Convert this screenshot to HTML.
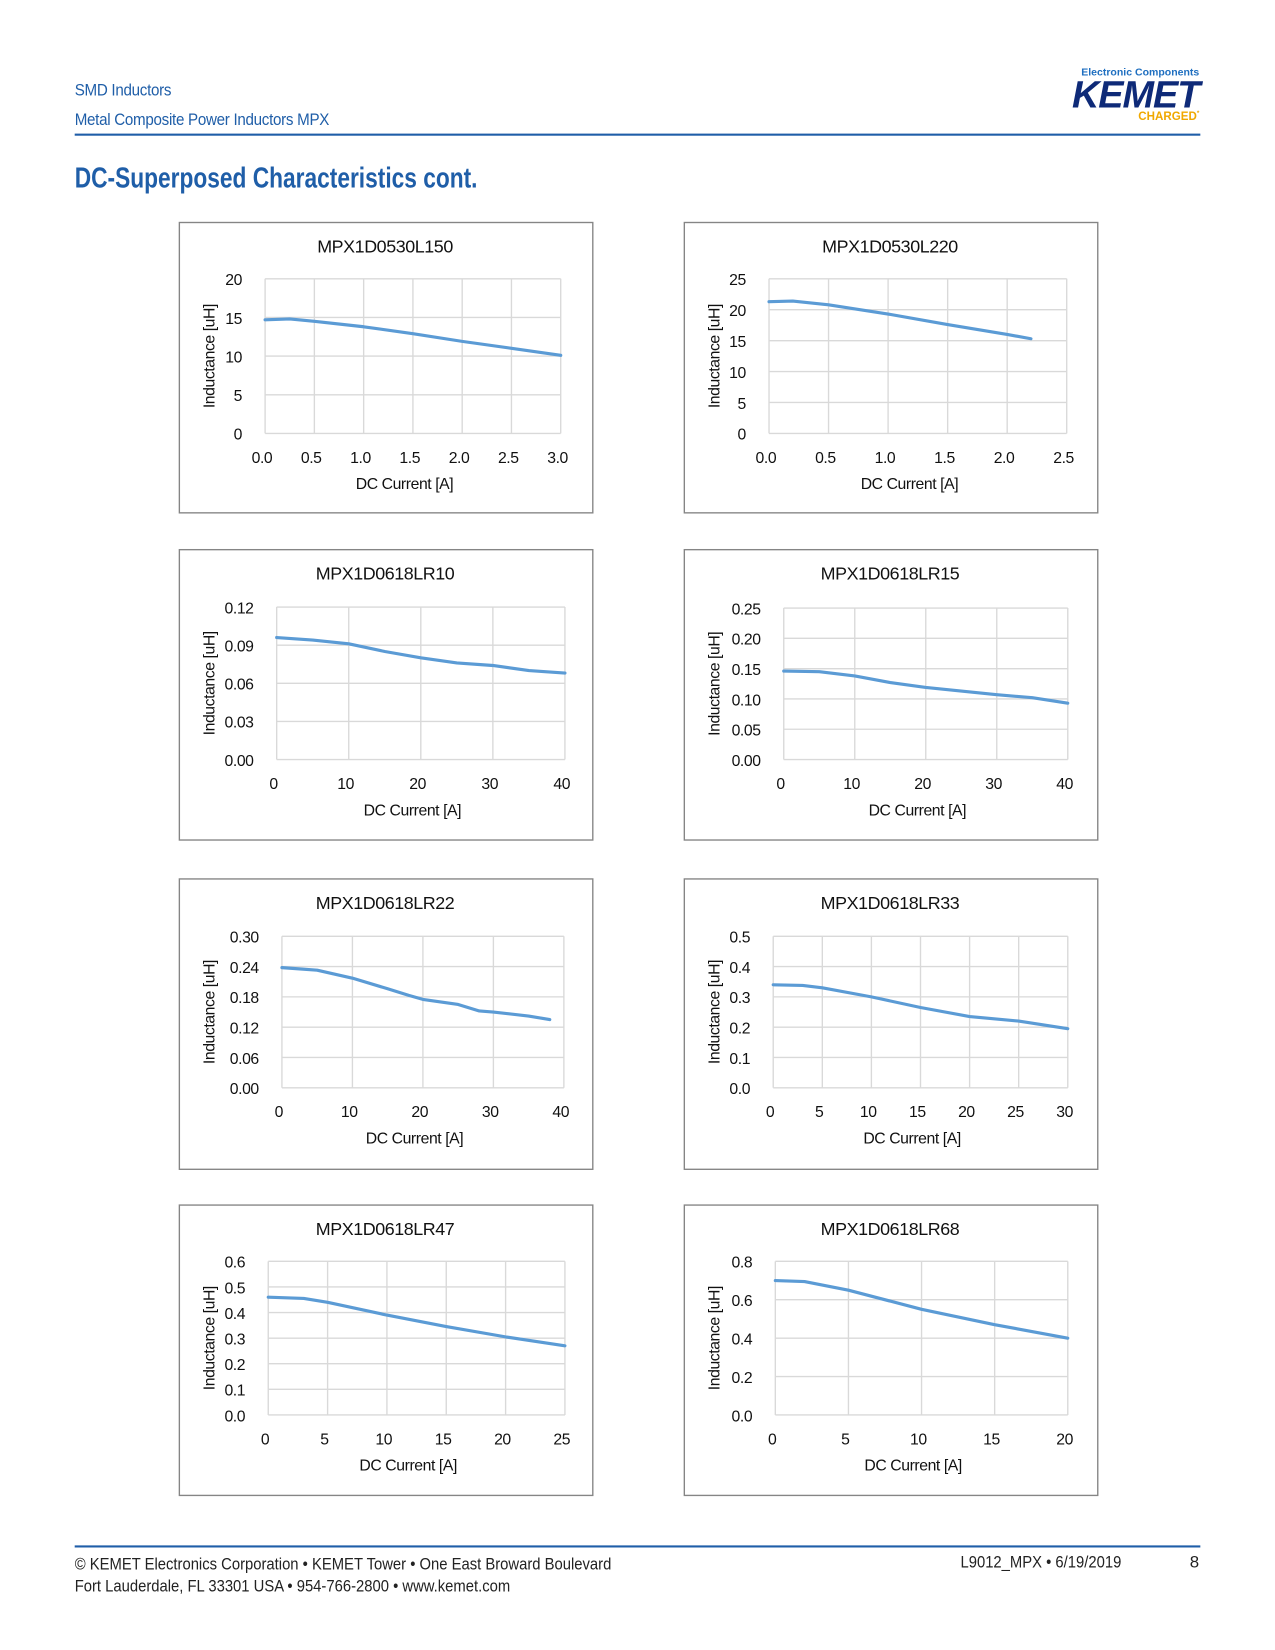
<!DOCTYPE html>
<html><head><meta charset="utf-8">
<style>
html,body{margin:0;padding:0;background:#fff;}
body{width:1275px;height:1650px;overflow:hidden;position:relative;font-family:"Liberation Sans Narrow","Liberation Sans",sans-serif;}
#wrap{position:absolute;left:0;top:0;width:1212px;height:1568px;transform:scale(1.052);transform-origin:0 0;}
.hdr{position:absolute;left:71px;color:#1f5ea8;font-size:16px;letter-spacing:-0.3px;transform:scaleX(0.9);transform-origin:0 0;}
.cond{transform:scaleX(0.88);transform-origin:0 0;}
svg text{font-family:"Liberation Sans Narrow","Liberation Sans",sans-serif;letter-spacing:-0.4px;}
</style></head><body>
<div id="wrap">
<div class="hdr" style="top:78px">SMD Inductors</div>
<div class="hdr" style="top:106px">Metal Composite Power Inductors MPX</div>
<div style="position:absolute;left:71px;top:127px;width:1070px;height:2px;background:#1f5ea8"></div>
<div style="position:absolute;left:990px;top:64px;width:150px;text-align:right;font-family:'Liberation Sans',sans-serif">
<div style="font-size:10px;font-weight:bold;color:#1f6fc0">Electronic Components</div>
<div style="font-size:36px;font-weight:bold;font-style:italic;color:#0e2a78;line-height:30px;letter-spacing:-1px">KEMET</div>
<div style="font-size:11px;font-weight:bold;color:#f0a800">CHARGED<sup style="font-size:6px">*</sup></div>
</div>
<div style="position:absolute;left:71px;top:154px;color:#1f5ea8;font-size:27px;font-weight:bold;transform:scaleX(0.8);transform-origin:0 0;white-space:nowrap">DC-Superposed Characteristics cont.</div>
<svg id="charts" width="1212" height="1460" style="position:absolute;left:0;top:0"></svg>
<div style="position:absolute;left:71px;top:1469px;width:1070px;height:2px;background:#1f5ea8"></div>
<div class="cond" style="position:absolute;left:71px;top:1477px;font-size:16px;line-height:21px;color:#222;white-space:nowrap">© KEMET Electronics Corporation • KEMET Tower • One East Broward Boulevard<br>Fort Lauderdale, FL 33301 USA • 954-766-2800 • www.kemet.com</div>
<div class="cond" style="position:absolute;left:913px;top:1477px;font-size:16px;color:#222;white-space:nowrap">L9012_MPX • 6/19/2019</div>
<div style="position:absolute;left:1131px;top:1477px;font-size:16px;color:#222">8</div>
</div>
<script>
const titles=["MPX1D0530L150","MPX1D0530L220","MPX1D0618LR10","MPX1D0618LR15","MPX1D0618LR22","MPX1D0618LR33","MPX1D0618LR47","MPX1D0618LR68"];
const x1=[0,0.25,0.5,1,1.5,2,2.5,3];          const y1=[14.7,14.8,14.5,13.8,12.9,11.9,11.0,10.1];
const x2=[0,0.2,0.5,1,1.5,2,2.2];             const y2=[21.3,21.4,20.8,19.3,17.6,16.0,15.3];
const x3=[0,5,10,15,20,25,30,35,40];          const y3=[0.096,0.094,0.091,0.085,0.080,0.076,0.074,0.070,0.068];
const x4=[0,5,10,15,20,25,30,35,40];          const y4=[0.146,0.145,0.138,0.127,0.119,0.113,0.107,0.102,0.093];
const x5=[0,5,10,15,18,20,25,28,30,35,38];    const y5=[0.238,0.233,0.217,0.196,0.183,0.175,0.165,0.152,0.150,0.142,0.135];
const x6=[0,3,5,10,15,20,25,30];              const y6=[0.34,0.338,0.33,0.30,0.265,0.235,0.22,0.195];
const x7=[0,3,5,10,15,20,25];                 const y7=[0.46,0.455,0.44,0.39,0.345,0.305,0.27];
const x8=[0,2,5,10,15,20];                    const y8=[0.70,0.695,0.65,0.55,0.47,0.40];
const xTicks=[[0,0.5,1,1.5,2,2.5,3],[0,0.5,1,1.5,2,2.5],[0,10,20,30,40],[0,10,20,30,40],[0,10,20,30,40],[0,5,10,15,20,25,30],[0,5,10,15,20,25],[0,5,10,15,20]];
const yTicks=[[0,5,10,15,20],[0,5,10,15,20,25],[0,0.03,0.06,0.09,0.12],[0,0.05,0.10,0.15,0.20,0.25],[0,0.06,0.12,0.18,0.24,0.30],[0,0.1,0.2,0.3,0.4,0.5],[0,0.1,0.2,0.3,0.4,0.5,0.6],[0,0.2,0.4,0.6,0.8]];
const xDec=[1,1,0,0,0,0,0,0], yDec=[0,0,2,2,2,1,1,1];
const XS=[x1,x2,x3,x4,x5,x6,x7,x8], YS=[y1,y2,y3,y4,y5,y6,y7,y8];
const boxes=[[170,211],[650,211],[170,522],[650,522],[170,835],[650,835],[170,1145],[650,1145]];
const plots=[[252,265,533,412],[731,265,1014,412],[263,577,537,722],[745,578,1015,722],[268,890,536,1034],[735,890,1015,1034],[255,1199,537,1345],[737,1199,1015,1345]];
const NS='http://www.w3.org/2000/svg';
const svg=document.getElementById('charts');
function mk(t,a,p){const e=document.createElementNS(NS,t);for(const k in a)e.setAttribute(k,a[k]);(p||svg).appendChild(e);return e;}
for(let i=0;i<8;i++){
  const g=mk('g',{});
  
  
  const [bx,by]=boxes[i];
  const box=mk('rect',{x:bx+0.5,y:by+0.5,width:393,height:276,fill:'#fff',stroke:'#858585','stroke-width':1.3},g);
  
  
  const [L,T,R,B]=plots[i];
  const xt=xTicks[i], yt=yTicks[i];
  const xmin=xt[0],xmax=xt[xt.length-1],ymin=yt[0],ymax=yt[yt.length-1];
  const sx=v=>L+(v-xmin)/(xmax-xmin)*(R-L);
  const sy=v=>B-(v-ymin)/(ymax-ymin)*(B-T);
  const ttl=mk('text',{x:bx+196,y:by+29,'text-anchor':'middle','font-size':17,fill:'#111'},g);
  ttl.textContent=titles[i];
  
  
  yt.forEach(v=>{
    const ln=mk('line',{x1:L,x2:R,y1:sy(v),y2:sy(v),stroke:'#d9d9d9','stroke-width':1.3},g);
    
    
    const t=mk('text',{x:L-22,y:sy(v)+6,'text-anchor':'end','font-size':15,fill:'#111'},g);
    t.textContent=v.toFixed(yDec[i]);
    
    
  });
  xt.forEach(v=>{
    const ln=mk('line',{x1:sx(v),x2:sx(v),y1:T,y2:B,stroke:'#d9d9d9','stroke-width':1.3},g);
    
    
    const t=mk('text',{x:sx(v)-3,y:B+28,'text-anchor':'middle','font-size':15,fill:'#111'},g);
    t.textContent=v.toFixed(xDec[i]);
    
    
  });
  const xa=mk('text',{x:(L+R)/2-8,y:B+53,'text-anchor':'middle','font-size':15,fill:'#111'},g);
  xa.textContent='DC Current [A]';
  
  
  const yx=bx+34, yy=(T+B)/2;
  const ya=mk('text',{x:yx,y:yy,'text-anchor':'middle','font-size':15,fill:'#111',transform:`rotate(-90 ${yx} ${yy})`},g);
  ya.textContent='Inductance [uH]';
  
  
  const pts=XS[i].map((x,k)=>sx(x).toFixed(1)+','+sy(YS[i][k]).toFixed(1)).join(' ');
  const pl=mk('polyline',{points:pts,fill:'none',stroke:'#5b9bd5','stroke-width':3,'stroke-linejoin':'round','stroke-linecap':'round'},g);
  
  
}
</script>
</body></html>
